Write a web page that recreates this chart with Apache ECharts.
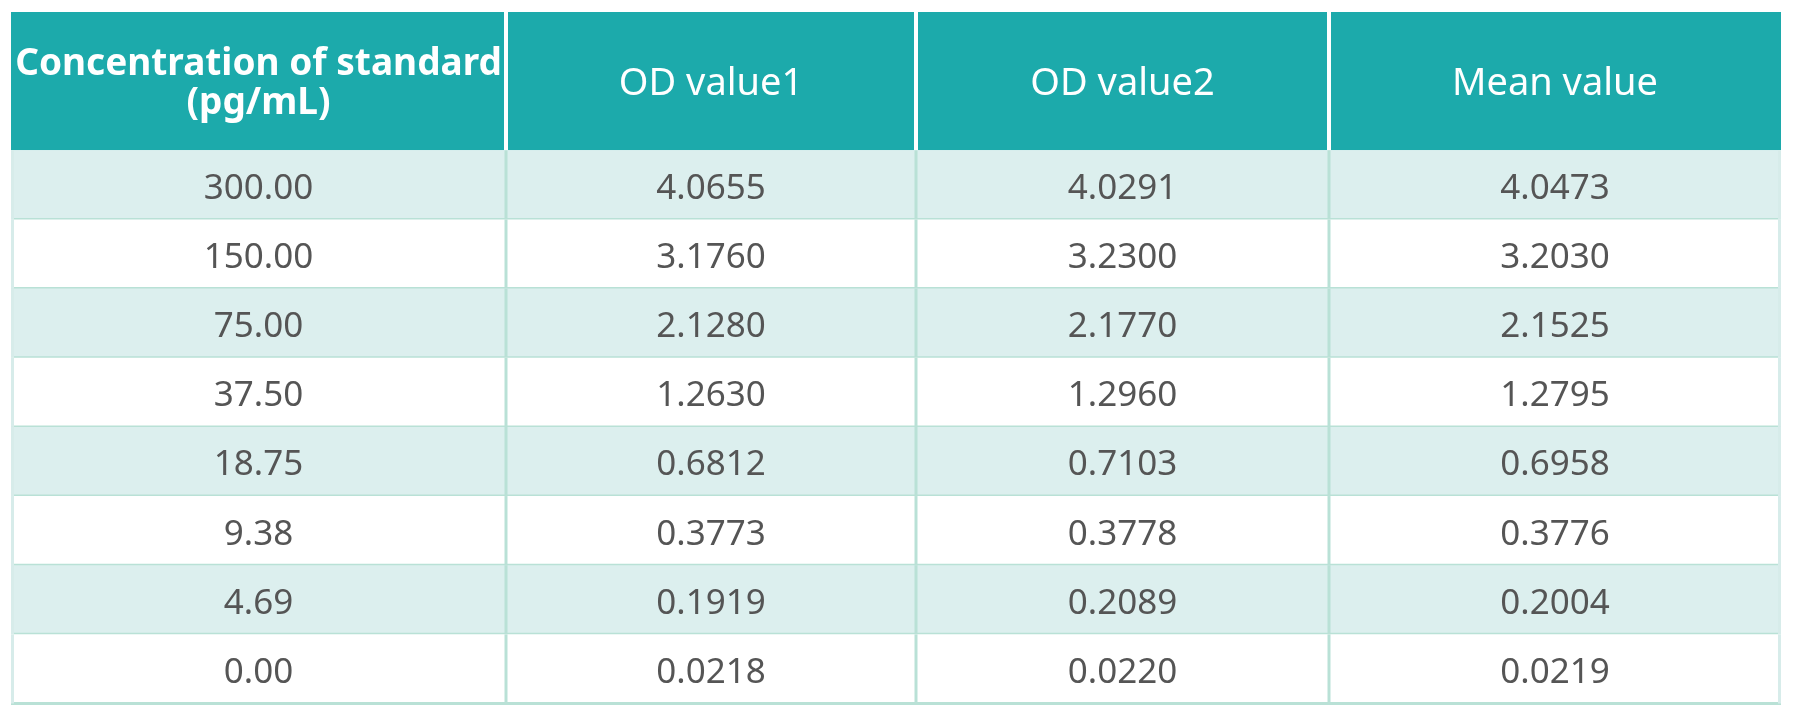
<!DOCTYPE html>
<html>
<head>
<meta charset="utf-8">
<script src="https://cdn.jsdelivr.net/npm/echarts@6/dist/echarts.min.js"></script>
<style>
html,body{margin:0;padding:0;background:#ffffff;}
#chart{width:1800px;height:722px;}
</style>
</head>
<body>
<div id="chart"></div>
<script>
// ---- data ----
const headers = ['Concentration of standard\n(pg/mL)', 'OD value1', 'OD value2', 'Mean value'];
const concentrations = [300.00, 150.00, 75.00, 37.50, 18.75, 9.38, 4.69, 0.00];
const odValue1 = [4.0655, 3.1760, 2.1280, 1.2630, 0.6812, 0.3773, 0.1919, 0.0218];
const odValue2 = [4.0291, 3.2300, 2.1770, 1.2960, 0.7103, 0.3778, 0.2089, 0.0220];
const meanValue = [4.0473, 3.2030, 2.1525, 1.2795, 0.6958, 0.3776, 0.2004, 0.0219];

// ---- layout (relative column widths, header spans two row units) ----
const colWidths = [495, 410, 413, 452];
const colEdges = [0];
colWidths.forEach(w => colEdges.push(colEdges[colEdges.length - 1] + w));
const totalW = colEdges[colEdges.length - 1];
const headerUnits = 2;
const totalRows = headerUnits + concentrations.length;

const columns = [
  concentrations.map(v => v.toFixed(2)),
  odValue1.map(v => v.toFixed(4)),
  odValue2.map(v => v.toFixed(4)),
  meanValue.map(v => v.toFixed(4))
];

// cells: [col, row] with row 0 = header
const cells = [];
const cellText = [];
for (let c = 0; c < headers.length; c++) {
  cells.push([c, 0]);
  cellText.push(headers[c]);
}
for (let r = 0; r < concentrations.length; r++) {
  for (let c = 0; c < headers.length; c++) {
    cells.push([c, r + 1]);
    cellText.push(columns[c][r]);
  }
}

const TEAL = '#1caaab';
const STRIPE = '#dcefee';
const BORDER = '#b9e1d6';
const EDGE = '#d7ecea';
const TEXT = '#555555';
const FONT = '"Noto Sans", "Open Sans", sans-serif';

function renderItem(params, api) {
  const c = api.value(0);
  const r = api.value(1);
  const y0 = r === 0 ? 0 : headerUnits + r - 1;
  const y1 = r === 0 ? headerUnits : headerUnits + r;
  const p0 = api.coord([colEdges[c], y0]);
  const p1 = api.coord([colEdges[c + 1], y1]);
  const x = p0[0], y = p0[1], w = p1[0] - p0[0], h = p1[1] - p0[1];
  const txt = cellText[params.dataIndex];
  const children = [];
  if (r === 0) {
    children.push({ type: 'rect', shape: { x: x, y: y, width: w, height: h }, style: { fill: TEAL } });
    if (c > 0) {
      children.push({ type: 'line', shape: { x1: x, y1: y, x2: x, y2: y + h }, style: { stroke: '#ffffff', lineWidth: 4 } });
    }
    children.push({
      type: 'text',
      style: {
        x: x + w / 2, y: y + h / 2 + 3,
        text: txt, align: 'center', verticalAlign: 'middle',
        fill: '#ffffff',
        font: (c === 0 ? 'bold 37px ' : '38px ') + FONT,
        lineHeight: 39
      }
    });
  } else {
    const fill = (r % 2 === 1) ? STRIPE : '#ffffff';
    children.push({ type: 'rect', shape: { x: x, y: y, width: w, height: h }, style: { fill: fill } });
    children.push({ type: 'line', shape: { x1: x, y1: y + h, x2: x + w, y2: y + h }, style: { stroke: BORDER, lineWidth: 3 } });
    if (c > 0) {
      children.push({ type: 'line', shape: { x1: x, y1: y, x2: x, y2: y + h }, style: { stroke: BORDER, lineWidth: 3 } });
    } else {
      children.push({ type: 'line', shape: { x1: x + 1.5, y1: y, x2: x + 1.5, y2: y + h }, style: { stroke: EDGE, lineWidth: 3 } });
    }
    if (c === headers.length - 1) {
      children.push({ type: 'line', shape: { x1: x + w - 1.5, y1: y, x2: x + w - 1.5, y2: y + h }, style: { stroke: EDGE, lineWidth: 3 } });
    }
    children.push({
      type: 'text',
      style: {
        x: x + w / 2, y: y + h / 2 + 4,
        text: txt, align: 'center', verticalAlign: 'middle',
        fill: TEXT,
        font: '35px ' + FONT
      }
    });
  }
  return { type: 'group', children: children };
}

const chart = echarts.init(document.getElementById('chart'), null, { renderer: 'canvas' });
chart.setOption({
  animation: false,
  backgroundColor: '#ffffff',
  grid: { left: 11, right: 19, top: 12, bottom: 18.5 },
  xAxis: { type: 'value', min: 0, max: totalW, show: false },
  yAxis: { type: 'value', min: 0, max: totalRows, inverse: true, show: false },
  series: [{
    type: 'custom',
    coordinateSystem: 'cartesian2d',
    renderItem: renderItem,
    data: cells,
    clip: false
  }]
});
</script>
</body>
</html>
